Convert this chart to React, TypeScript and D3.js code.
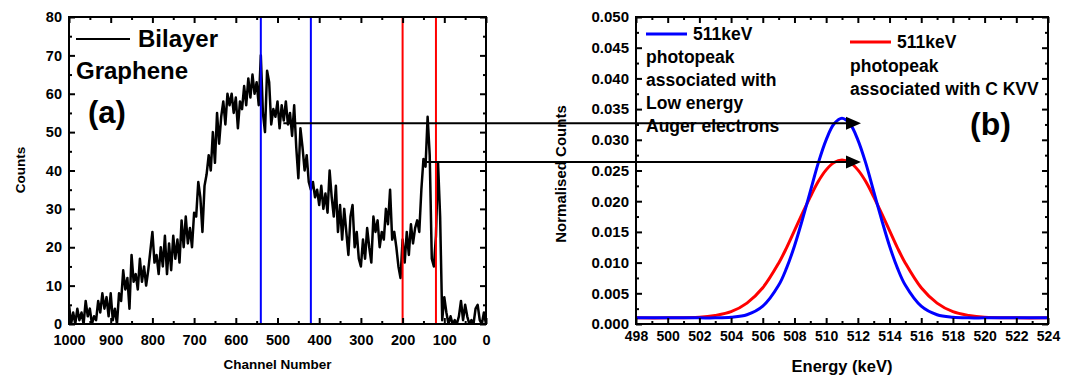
import * as d3 from 'd3'
import { useEffect, useRef } from 'react'

// spectrum (a): counts every 5 channels, channel 1000 -> 0
const channels = d3.range(1000, -1, -5)
const counts = [
  5, 0, 3, 0, 4, 1, 3, 0, 6, 2, 4, 0, 2, 1, 6, 3, 8, 4, 7, 2,
  8, 1, 4, 0, 8, 6, 14, 9, 12, 4, 18, 11, 13, 9, 17, 11, 15, 10, 14, 19,
  24, 16, 18, 13, 20, 15, 23, 13, 21, 14, 23, 17, 22, 16, 27, 20, 28, 21, 25, 20,
  29, 28, 37, 33, 24, 36, 39, 44, 40, 50, 42, 55, 47, 54, 58, 52, 60, 57, 60, 55,
  59, 51, 58, 56, 62, 57, 64, 59, 65, 60, 63, 57, 70, 55, 50, 66, 63, 52, 56, 54,
  58, 51, 57, 53, 58, 52, 55, 49, 57, 46, 38, 51, 46, 40, 44, 37, 35, 37, 33, 35,
  31, 36, 30, 34, 29, 40, 33, 28, 36, 24, 31, 22, 30, 24, 18, 28, 31, 20, 24, 17,
  15, 22, 17, 25, 20, 16, 28, 24, 27, 20, 24, 22, 30, 26, 35, 22, 24, 20, 15, 12,
  22, 16, 24, 18, 26, 21, 25, 27, 24, 35, 43, 41, 54, 44, 17, 15, 23, 42, 28, 1,
  7, 3, 0, 2, 0, 1, 0, 2, 6, 1, 5, 2, 0, 1, 0, 4, 5, 1, 0, 3,
  0
]
const windowChannels = [540, 420, 200, 120]
const windowColors = ['#0000ff', '#0000ff', '#ff0000', '#ff0000']

// photopeaks (b)
const energies = [498, 500, 502, 503, 504, 505, 506, 507, 507.5, 508, 508.5, 509, 509.5, 510, 510.5, 511,
  511.5, 512, 512.5, 513, 513.5, 514, 514.5, 515, 516, 517, 518, 519, 520, 522, 524]
const augerLow = [0.001, 0.001, 0.001, 0.001, 0.0011, 0.0015, 0.0029, 0.0063, 0.0091, 0.0127, 0.017, 0.0216,
  0.0262, 0.03, 0.0326, 0.0335, 0.0326, 0.03, 0.0262, 0.0216, 0.017, 0.0127, 0.0091, 0.0063, 0.0029, 0.0015,
  0.0011, 0.001, 0.001, 0.001, 0.001]
const carbonKVV = [0.001, 0.001, 0.0011, 0.0014, 0.002, 0.0034, 0.0059, 0.0099, 0.0124, 0.0152, 0.018, 0.0207,
  0.0232, 0.0251, 0.0263, 0.0267, 0.0263, 0.0251, 0.0232, 0.0207, 0.018, 0.0152, 0.0124, 0.0099, 0.0059, 0.0034,
  0.002, 0.0014, 0.0011, 0.001, 0.001]

// arrows: from a point on the spectrum to an energy in (b)
const arrowFrom = [[486, 52.3], [142, 42.2]]
const arrowToEnergy = 512.2

const FONT = '"Liberation Sans", Arial, sans-serif'

function frame(g, x, y, xMaj, xMin, yMaj, yMin, xFmt, yFmt, xSize, ySize, xPad) {
  const [x0, x1] = x.range()
  const [y1, y0] = y.range()
  const add = (axis, tx, ty, vals, size, fmt, fs, pad) => {
    const a = g.append('g').attr('transform', `translate(${tx},${ty})`)
      .call(axis.tickValues(vals).tickSize(-size).tickSizeOuter(0).tickPadding(pad).tickFormat(fmt))
    a.select('.domain').remove()
    a.selectAll('line').attr('stroke-width', 2)
    a.selectAll('text').attr('font-family', FONT).attr('font-weight', 'bold').attr('font-size', fs)
  }
  const none = () => ''
  add(d3.axisBottom(x), 0, y1, xMaj, 6, xFmt, xSize, xPad)
  add(d3.axisBottom(x), 0, y1, xMin, 3, none, xSize, xPad)
  add(d3.axisTop(x), 0, y0, xMaj, 6, none, xSize, 7)
  add(d3.axisTop(x), 0, y0, xMin, 3, none, xSize, 7)
  add(d3.axisLeft(y), x0, 0, yMaj, 6, yFmt, ySize, 7)
  add(d3.axisLeft(y), x0, 0, yMin, 3, none, ySize, 7)
  add(d3.axisRight(y), x1, 0, yMaj, 6, none, ySize, 7)
  add(d3.axisRight(y), x1, 0, yMin, 3, none, ySize, 7)
  g.append('rect').attr('x', x0).attr('y', y0).attr('width', x1 - x0).attr('height', y1 - y0)
    .attr('fill', 'none').attr('stroke', 'black').attr('stroke-width', 2)
}

function txt(g, s, x, y, size, anchor = 'start', rot = 0) {
  g.append('text').attr('transform', `translate(${x},${y}) rotate(${rot})`)
    .attr('text-anchor', anchor).attr('font-family', FONT).attr('font-weight', 'bold')
    .attr('font-size', size).attr('fill', 'black').text(s)
}

function draw(svgEl) {
  const svg = d3.select(svgEl)
  svg.selectAll('*').remove()

  // ---- panel (a)
  const xL = d3.scaleLinear().domain([1000, 0]).range([69, 486])
  const yL = d3.scaleLinear().domain([0, 80]).range([324, 17])
  const gL = svg.append('g')
  gL.append('defs').append('clipPath').attr('id', 'clipL').append('rect')
    .attr('x', 69).attr('y', 17).attr('width', 417).attr('height', 307)

  const pts = channels.map((c, i) => [c, counts[i]])
  gL.append('path').attr('clip-path', 'url(#clipL)')
    .attr('d', d3.line().x(d => xL(d[0])).y(d => yL(d[1]))(pts))
    .attr('fill', 'none').attr('stroke', 'black').attr('stroke-width', 2.5).attr('stroke-linejoin', 'round')

  gL.selectAll('line.win').data(windowChannels).enter().append('line')
    .attr('x1', d => xL(d)).attr('x2', d => xL(d)).attr('y1', 17).attr('y2', 324)
    .attr('stroke', (d, i) => windowColors[i]).attr('stroke-width', 2)

  frame(gL, xL, yL, d3.range(1000, -1, -100), d3.range(950, 0, -100),
    d3.range(0, 81, 10), d3.range(5, 80, 10), d3.format('d'), d3.format('d'), 14.5, 14.5, 11)

  gL.append('line').attr('x1', 76).attr('x2', 130).attr('y1', 39).attr('y2', 39)
    .attr('stroke', 'black').attr('stroke-width', 2)
  txt(gL, 'Bilayer', 138, 47, 24)
  txt(gL, 'Graphene', 76, 79, 24)
  txt(gL, '(a)', 88, 123, 31)
  txt(gL, 'Counts', 25, 170, 13.5, 'middle', -90)
  txt(gL, 'Channel Number', 277.5, 369, 13.5, 'middle')

  // ---- panel (b)
  const xR = d3.scaleLinear().domain([498, 524]).range([636, 1048])
  const yR = d3.scaleLinear().domain([0, 0.05]).range([324, 17])
  const gR = svg.append('g')
  const ln = d3.line().x(d => xR(d[0])).y(d => yR(d[1])).curve(d3.curveCatmullRom)
  gR.append('path').attr('d', ln(energies.map((e, i) => [e, carbonKVV[i]])))
    .attr('fill', 'none').attr('stroke', '#ff0000').attr('stroke-width', 3)
  gR.append('path').attr('d', ln(energies.map((e, i) => [e, augerLow[i]])))
    .attr('fill', 'none').attr('stroke', '#0000ff').attr('stroke-width', 3)

  frame(gR, xR, yR, d3.range(498, 525, 2), d3.range(499, 524, 2),
    d3.range(0, 0.0501, 0.005), d3.range(0.0025, 0.05, 0.005), d3.format('d'), d3.format('.3f'), 14, 15, 7)

  gR.append('line').attr('x1', 646).attr('x2', 687).attr('y1', 34).attr('y2', 34)
    .attr('stroke', '#0000ff').attr('stroke-width', 3)
  txt(gR, '511keV', 693, 40, 17.5)
  txt(gR, 'photopeak', 646, 63, 17.5)
  txt(gR, 'associated with', 646, 86, 17.5)
  txt(gR, 'Low energy', 646, 109, 17.5)
  txt(gR, 'Auger electrons', 646, 132, 17.5)

  gR.append('line').attr('x1', 850).attr('x2', 891).attr('y1', 42).attr('y2', 42)
    .attr('stroke', '#ff0000').attr('stroke-width', 3)
  txt(gR, '511keV', 897, 48, 17.5)
  txt(gR, 'photopeak', 850, 72, 17.5)
  txt(gR, 'associated with C KVV', 850, 94.5, 17.5)
  txt(gR, '(b)', 970, 135, 32)
  txt(gR, 'Normalised Counts', 566, 174, 15, 'middle', -90)
  txt(gR, 'Energy (keV)', 842, 371.5, 16.5, 'middle')

  // ---- arrows linking the two panels
  const tip = xR(arrowToEnergy)
  arrowFrom.forEach(([c, v]) => {
    const yy = yL(v)
    svg.append('line').attr('x1', xL(c)).attr('x2', tip - 14).attr('y1', yy).attr('y2', yy)
      .attr('stroke', 'black').attr('stroke-width', 2)
    svg.append('path').attr('d', `M${tip},${yy}L${tip - 15},${yy - 6.5}L${tip - 15},${yy + 6.5}Z`)
      .attr('fill', 'black')
  })
}

export default function App() {
  const ref = useRef(null)
  useEffect(() => {
    draw(ref.current)
  })
  return (
    <svg ref={ref} width={1067} height={376}
      style={{ position: 'absolute', left: 0, top: 0, background: 'white' }} />
  )
}
